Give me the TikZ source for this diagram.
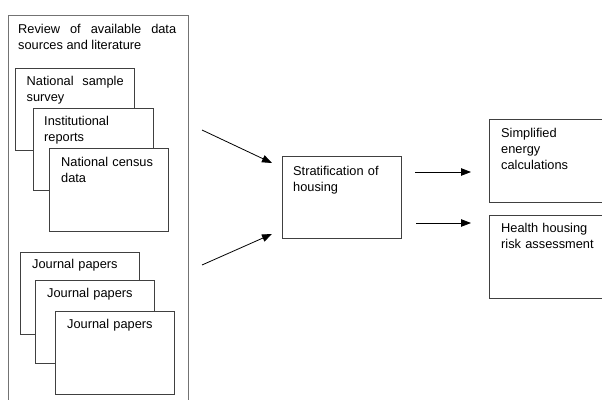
\documentclass[tikz,border=0pt]{standalone}
\usepackage{fontspec}
\setmainfont{Liberation Sans}
\usetikzlibrary{arrows.meta}
\begin{document}
\begin{tikzpicture}[x=1pt,y=-1pt,
  box/.style={draw=black!75, fill=white, line width=0.8pt, inner sep=0pt, anchor=north west},
  outerbox/.style={draw=black!55, line width=0.9pt, inner sep=0pt, anchor=north west},
  txt/.style={anchor=base west, inner sep=0pt, align=left, font=\fontsize{12.8}{16}\selectfont},
  jtxt/.style={txt, align=justify},
  arr/.style={line width=0.8pt, -{Triangle[length=10pt,width=7.5pt]}}]
\path[use as bounding box, clip] (0,0) rectangle (602,399);
% outer review box
\node[outerbox, minimum width=180pt, minimum height=400pt] (review) at (7.5,14.5) {};
\node[jtxt, text width=158pt] (reviewt) at (18,33) {Review of available data sources and literature};
% stacked source boxes
\node[box, minimum width=119pt, minimum height=82pt] (nss) at (15,68) {};
\node[jtxt, text width=97pt] (nsst) at (26.5,85) {National sample survey};
\node[box, minimum width=120pt, minimum height=82pt] (inst) at (33,108) {};
\node[txt, text width=100pt] (instt) at (44,125) {Institutional\\reports};
\node[box, minimum width=119pt, minimum height=83pt] (cens) at (49,148) {};
\node[txt, text width=105pt] (censt) at (61,166) {National census\\data};
% journal boxes
\node[box, minimum width=119pt, minimum height=82pt] (j1) at (20,252) {};
\node[txt, text width=100pt] (j1t) at (32,268) {Journal papers};
\node[box, minimum width=119pt, minimum height=83pt] (j2) at (35,280) {};
\node[txt, text width=100pt] (j2t) at (47,297) {Journal papers};
\node[box, minimum width=119pt, minimum height=83pt] (j3) at (55,311) {};
\node[txt, text width=100pt] (j3t) at (67,328) {Journal papers};
% stratification
\node[box, minimum width=119pt, minimum height=82pt] (strat) at (282,156) {};
\node[txt, text width=105pt] (stratt) at (293,175) {Stratification of\\housing};
% outputs
\node[box, minimum width=130pt, minimum height=83pt] (energy) at (489,119) {};
\node[txt, text width=100pt] (energyt) at (501,137) {Simplified\\energy\\calculations};
\node[box, minimum width=130pt, minimum height=83pt] (health) at (489,215) {};
\node[txt, text width=110pt] (healtht) at (501,232) {Health housing\\risk assessment};
% arrows
\coordinate (a1s) at (202,130);
\coordinate (a1e) at (272,163);
\coordinate (a2s) at (202,265);
\coordinate (a2e) at (272,234);
\coordinate (a3s) at (415,172);
\coordinate (a3e) at (471,172);
\coordinate (a4s) at (416,223);
\coordinate (a4e) at (471,223);
\draw[arr] (a1s) -- (a1e);
\draw[arr] (a2s) -- (a2e);
\draw[arr] (a3s) -- (a3e);
\draw[arr] (a4s) -- (a4e);
\end{tikzpicture}
\end{document}
